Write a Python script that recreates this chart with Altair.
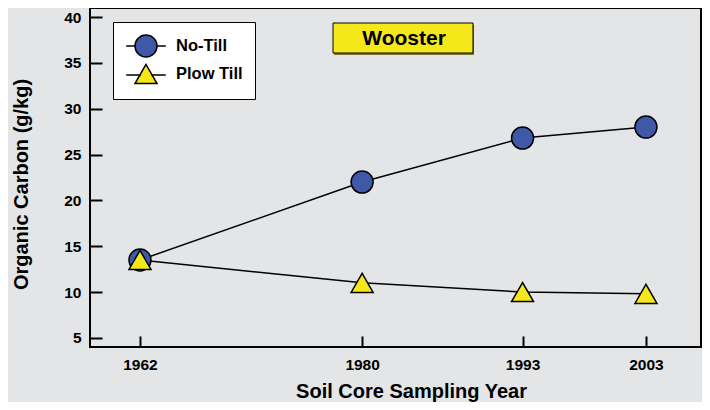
import altair as alt
import pandas as pd

# ---- data ----
years = [1962, 1980, 1993, 2003]
no_till = [13.5, 22.0, 26.8, 28.0]
plow_till = [13.5, 11.0, 10.0, 9.8]
series_names = ["No-Till", "Plow Till"]
y_ticks = [5, 10, 15, 20, 25, 30, 35, 40]
site_label = ["Wooster"]

rows = []
for name, vals in zip(series_names, [no_till, plow_till]):
    for yr, v in zip(years, vals):
        rows.append({"year": yr, "carbon": v, "series": name})
df = pd.DataFrame(rows)
ann = pd.DataFrame({"label": site_label})

FONT = "Liberation Sans"
BG = "#e4e5e7"
BLUE = "#3f58a8"
YELLOW = "#f5e81a"

# legend symbols: marker with a line through it (custom SVG paths)
CIRCLE_PATH = "M-1.8,0L-1,0M1,0L1.8,0M-1,0A1,1,0,1,0,1,0A1,1,0,1,0,-1,0Z"
TRI_PATH = "M-1.8,0.1L-0.45,0.1M0.45,0.1L1.8,0.1M0,-0.87L-1,0.87L1,0.87Z"

x_scale = alt.Scale(domain=[1957.95, 2007.46], nice=False, zero=False)
y_scale = alt.Scale(domain=[4, 41], nice=False, zero=False)

x_axis = alt.Axis(
    values=years, format="d", title="Soil Core Sampling Year", grid=False,
    domain=False, offset=-11, tickSize=11, tickWidth=2, tickColor="black",
    labelPadding=10, labelFont=FONT, labelFontSize=15.5, labelFontWeight="bold",
    labelColor="black", titleFont=FONT, titleFontSize=20, titleFontWeight="bold",
    titleColor="black", titleX=321, titleY=61, titleBaseline="alphabetic",
    titleAlign="center",
)
y_axis = alt.Axis(
    values=y_ticks, title="Organic Carbon (g/kg)", grid=False,
    domain=False, offset=-12, tickSize=12, tickWidth=2, tickColor="black",
    labelPadding=9, labelFont=FONT, labelFontSize=15.5, labelFontWeight="bold",
    labelColor="black", titleFont=FONT, titleFontSize=20, titleFontWeight="bold",
    titleColor="black", titleX=-75, titleY=176, titleAngle=270,
    titleBaseline="alphabetic", titleAlign="center",
)

X = alt.X("year:Q", scale=x_scale, axis=x_axis)
Y = alt.Y("carbon:Q", scale=y_scale, axis=y_axis)

base = alt.Chart(df)

lines = base.mark_line(color="black", strokeWidth=1.5).encode(
    x=X, y=Y, detail="series:N"
)

circles = base.transform_filter(alt.datum.series == "No-Till").mark_point(
    shape="circle", filled=True, fill=BLUE, stroke="black", strokeWidth=1.5,
    size=484, opacity=1,
).encode(x=X, y=Y)

triangles = base.transform_filter(alt.datum.series == "Plow Till").mark_point(
    shape="triangle-up", filled=True, fill=YELLOW, stroke="black", strokeWidth=1.5,
    size=484, opacity=1,
).encode(x=X, y=Y)

legend = alt.Legend(
    title=None, orient="none", legendX=23, legendY=14, fillColor="white",
    strokeColor="black", padding=12, symbolOpacity=1, symbolStrokeColor="black",
    symbolStrokeWidth=1.5, symbolSize=484, symbolOffset=9, labelOffset=18,
    rowPadding=1, labelFont=FONT, labelFontSize=16.5, labelFontWeight="bold",
    labelColor="black", cornerRadius=0,
)

# invisible carrier layer (size 0) whose only job is to produce the legend
legend_layer = base.mark_point(filled=True, size=0, strokeWidth=1.5).encode(
    x=X, y=Y,
    shape=alt.Shape("series:N", scale=alt.Scale(domain=series_names,
                    range=[CIRCLE_PATH, TRI_PATH]), legend=legend),
    fill=alt.Fill("series:N", scale=alt.Scale(domain=series_names,
                  range=[BLUE, YELLOW]), legend=legend),
    stroke=alt.Stroke("series:N", scale=alt.Scale(domain=series_names,
                      range=["black", "black"]), legend=legend),
)

ann_shadow = alt.Chart(ann).mark_rect(fill="#7d7a3c").encode(
    x=alt.value(244), x2=alt.value(384), y=alt.value(17), y2=alt.value(47)
)
ann_box = alt.Chart(ann).mark_rect(fill=YELLOW, stroke="black", strokeWidth=1).encode(
    x=alt.value(243), x2=alt.value(383), y=alt.value(15), y2=alt.value(45)
)
ann_text = alt.Chart(ann).mark_text(
    font=FONT, fontSize=21, fontWeight="bold", color="black",
    align="center", baseline="middle",
).encode(x=alt.value(314), y=alt.value(31), text="label:N")

chart = alt.layer(
    legend_layer, lines, circles, triangles, ann_shadow, ann_box, ann_text
).properties(
    width=611, height=339,
    padding={"left": 82, "top": 0, "right": 1, "bottom": 55},
    autosize=alt.AutoSizeParams(type="none"),
).configure(
    background=BG,
).configure_view(
    stroke="black", strokeWidth=2, fill=BG,
)

chart.save("out.html", embed_options={"renderer": "svg", "actions": False})
